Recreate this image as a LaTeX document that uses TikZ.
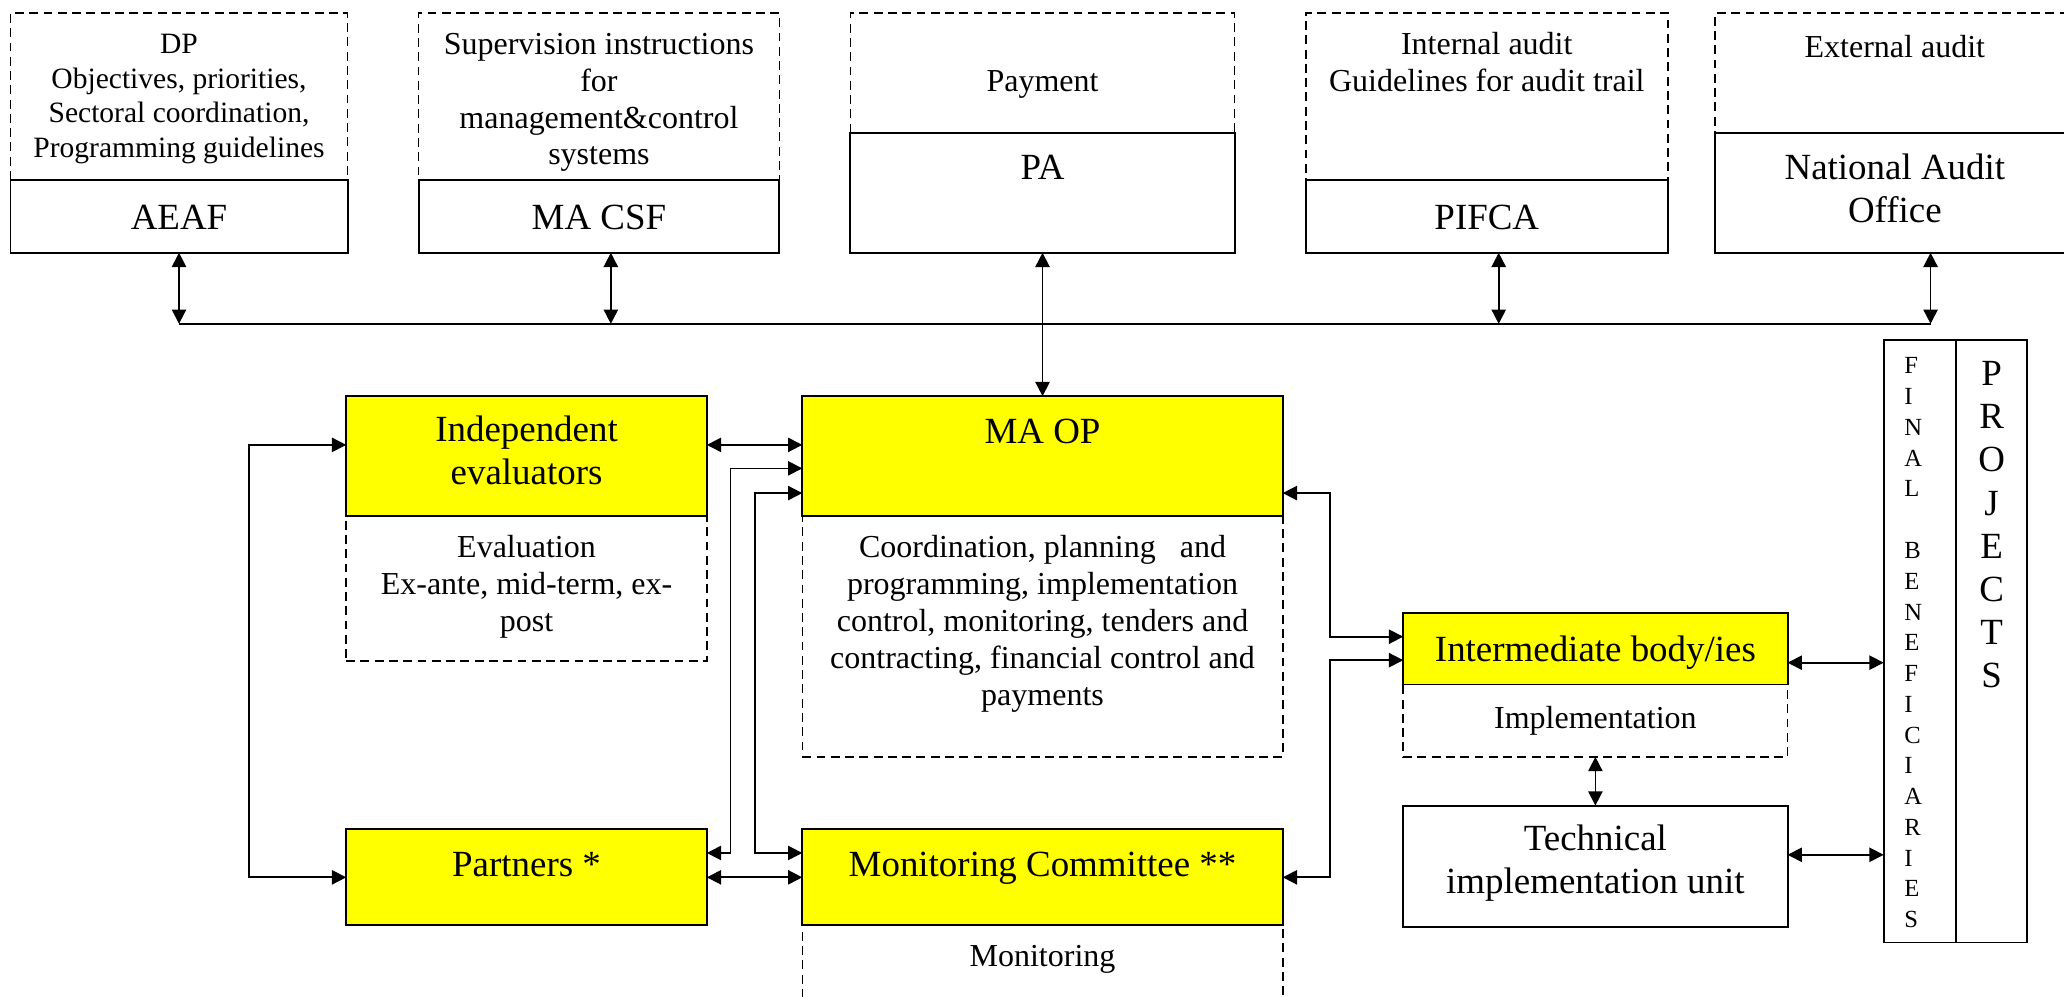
\documentclass[tikz,border=0pt]{standalone}
\usepackage{fontspec}
\setmainfont{Liberation Serif}
\usetikzlibrary{arrows.meta,positioning}
\definecolor{boxyellow}{HTML}{FFFF00}

\begin{document}
\begin{tikzpicture}[
    x=0.0188cm, y=-0.0188cm,
    solidbox/.style={draw, line width=0.8pt, inner sep=0pt, outer sep=0pt},
    yellowbox/.style={solidbox, fill=boxyellow},
    notebox/.style={draw, line width=0.6pt, dash pattern=on 3.6pt off 2.2pt, inner sep=0pt, outer sep=0pt},
    smalltext/.style={font=\fontsize{13}{15}\selectfont, align=center, inner sep=0pt, execute at begin node=\strut},
    bigtext/.style={font=\fontsize{15}{17.5}\selectfont, align=center, inner sep=0pt, execute at begin node=\strut},
    connector/.style={line width=0.7pt, {Triangle[length=5.8pt,width=5.8pt]}-{Triangle[length=5.8pt,width=5.8pt]}}
  ]
    \useasboundingbox (0,0) rectangle (1568,757);
    \clip (0,0) rectangle (1568,757);

    % Top row
    \node[solidbox, minimum width=4.813cm, minimum height=1.034cm] (aeaf) at (136,164.5) {};
    \node[notebox, minimum width=4.813cm, minimum height=2.388cm, above=0pt of aeaf] (aeafNote) {};
    \node[bigtext, below=7.6pt of aeaf.north] (aeafLabel) {AEAF};
    \node[smalltext, font=\fontsize{12}{14}\selectfont, below=8.45pt of aeafNote.north] (aeafText) {DP\\Objectives, priorities,\\Sectoral coordination,\\Programming guidelines};

    \node[solidbox, minimum width=5.151cm, minimum height=1.034cm] (macsf) at (455,164.5) {};
    \node[notebox, minimum width=5.151cm, minimum height=2.388cm, above=0pt of macsf] (macsfNote) {};
    \node[bigtext, below=7.6pt of macsf.north] (macsfLabel) {MA CSF};
    \node[smalltext, below=7.9pt of macsfNote.north] (macsfText) {Supervision instructions\\for\\management\&control\\systems};

    \node[solidbox, minimum width=5.49cm, minimum height=1.711cm] (pa) at (792,146.5) {};
    \node[notebox, minimum width=5.49cm, minimum height=1.711cm, above=0pt of pa] (paNote) {};
    \node[bigtext, below=6.6pt of pa.north] (paLabel) {PA};
    \node[smalltext, below=21pt of paNote.north] (paText) {Payment};

    \node[solidbox, minimum width=5.17cm, minimum height=1.034cm] (pifca) at (1129.5,164.5) {};
    \node[notebox, minimum width=5.17cm, minimum height=2.388cm, above=0pt of pifca] (pifcaNote) {};
    \node[bigtext, below=7.6pt of pifca.north] (pifcaLabel) {PIFCA};
    \node[smalltext, below=7.7pt of pifcaNote.north] (pifcaText) {Internal audit\\Guidelines for audit trail};

    \node[solidbox, minimum width=5.132cm, minimum height=1.711cm] (nao) at (1439.5,146.5) {};
    \node[notebox, minimum width=5.132cm, minimum height=1.711cm, above=0pt of nao] (naoNote) {};
    \node[bigtext, below=8.2pt of nao.north] (naoLabel) {National Audit\\Office};
    \node[smalltext, below=7.2pt of naoNote.north] (naoText) {External audit};

    \coordinate (bus) at (136,246);

    % Management bodies
    \node[yellowbox, minimum width=5.15cm, minimum height=1.711cm] (ie) at (400,346.5) {};
    \node[notebox, minimum width=5.15cm, minimum height=2.068cm, below=0pt of ie] (ieNote) {};
    \node[bigtext, below=7.6pt of ie.north] (ieLabel) {Independent\\evaluators};
    \node[smalltext, below=7.6pt of ieNote.north] (ieText) {Evaluation\\Ex-ante, mid-term, ex-\\post};

    \node[yellowbox, minimum width=6.862cm, minimum height=1.711cm] (maop) at (792,346.5) {};
    \node[notebox, minimum width=6.862cm, minimum height=3.44cm, below=0pt of maop] (maopNote) {};
    \node[bigtext, below=6.6pt of maop.north] (maopLabel) {MA OP};
    \node[smalltext, below=7.6pt of maopNote.north] (maopText) {Coordination, planning\ \ \ and\\programming, implementation\\control, monitoring, tenders and\\contracting, financial control and\\payments};

    \node[yellowbox, minimum width=5.15cm, minimum height=1.372cm] (partners) at (400,666.5) {};
    \node[bigtext, below=6.6pt of partners.north] (partnersLabel) {Partners *};

    \node[yellowbox, minimum width=6.862cm, minimum height=1.372cm] (mc) at (792,666.5) {};
    \node[notebox, minimum width=6.862cm, minimum height=1.88cm, below=0pt of mc] (mcNote) {};
    \node[bigtext, below=6.6pt of mc.north] (mcLabel) {Monitoring Committee **};
    \node[smalltext, below=6.1pt of mcNote.north] (mcText) {Monitoring};

    % Implementation side
    \node[yellowbox, minimum width=5.49cm, minimum height=1.015cm] (ib) at (1212,493) {};
    \node[notebox, minimum width=5.49cm, minimum height=1.034cm, below=0pt of ib] (ibNote) {};
    \node[bigtext, below=6.9pt of ib.north] (ibLabel) {Intermediate body/ies};
    \node[smalltext, below=7.2pt of ibNote.north] (ibText) {Implementation};

    \node[solidbox, minimum width=5.49cm, minimum height=1.73cm] (tiu) at (1212,658) {};
    \node[bigtext, below=7.6pt of tiu.north] (tiuLabel) {Technical\\implementation unit};

    \node[solidbox, minimum width=1.034cm, minimum height=8.61cm] (fb) at (1458.5,487) {};
    \node[solidbox, minimum width=1.015cm, minimum height=8.61cm, right=0pt of fb] (proj) {};
    \node[font=\fontsize{10}{12.5}\selectfont, align=left, inner sep=0pt, execute at begin node=\strut, below right=7.2pt and 0.29cm of fb.north west] (fbText) {F\\I\\N\\A\\L\\\strut\\B\\E\\N\\E\\F\\I\\C\\I\\A\\R\\I\\E\\S};
    \node[bigtext, below=8.75pt of proj.north] (projText) {P\\R\\O\\J\\E\\C\\T\\S};

    % Connectors
    \draw[connector] (aeaf.south) -- (aeaf.south |- bus);
    \draw[connector] ([xshift=0.17cm]macsf.south) -- ([xshift=0.17cm]macsf.south |- bus);
    \draw[connector] ([xshift=0.17cm]pifca.south) -- ([xshift=0.17cm]pifca.south |- bus);
    \draw[connector] ([xshift=0.51cm]nao.south) -- ([xshift=0.51cm]nao.south |- bus);
    \draw[line width=0.7pt] (bus) -- ([xshift=0.51cm]nao.south |- bus);
    \draw[connector] (pa.south) -- (maop.north);

    \draw[connector] ([yshift=0.16cm]ie.east) -- ([yshift=0.16cm]ie.east -| maop.west);
    \draw[connector] ([yshift=0.16cm]ie.west) -- ++(-74,0) |- (partners.west);
    \draw[connector] ([yshift=0.348cm]partners.east) -- ++(18,0) |- ([yshift=-0.175cm]maop.west);
    \draw[connector] ([yshift=0.348cm]mc.west) -- ++(-36,0) |- ([yshift=-0.528cm]maop.west);
    \draw[connector] (partners.east) -- (mc.west);
    \draw[connector] ([yshift=-0.528cm]maop.east) -- ++(36,0) |- ([yshift=0.175cm]ib.west);
    \draw[connector] (mc.east) -- ++(36,0) |- ([yshift=-0.16cm]ib.west);
    \draw[connector] ([yshift=-0.196cm]ib.east) -- ([yshift=-0.196cm]ib.east -| fb.west);
    \draw[connector] ([yshift=0.162cm]tiu.east) -- ([yshift=0.162cm]tiu.east -| fb.west);
    \draw[connector] (ibNote.south) -- (tiu.north);
\end{tikzpicture}
\end{document}
